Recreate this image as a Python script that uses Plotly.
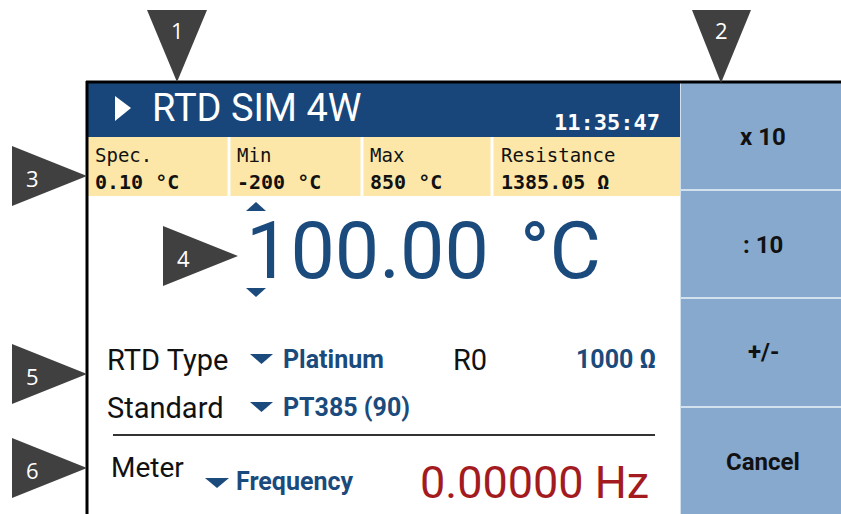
import plotly.graph_objects as go

# ---------------- data (texts shown on the screen) ----------------
title_text = "RTD SIM 4W"
clock_text = "11:35:47"
info_labels = ["Spec.", "Min", "Max", "Resistance"]
info_values = ["0.10 °C", "-200 °C", "850 °C", "1385.05 Ω"]
main_value = "100.00"
main_unit = "°C"
setting_labels = ["RTD Type", "Standard"]
setting_values = ["Platinum", "PT385 (90)"]
r0_label = "R0"
r0_value = "1000 Ω"
meter_label = "Meter"
meter_mode = "Frequency"
meter_reading = "0.00000 Hz"
button_labels = ["x 10", ": 10", "+/-", "Cancel"]
callout_numbers = ["1", "2", "3", "4", "5", "6"]

# ---------------- layout constants ----------------
W, H = 841, 514
NARROW = "Roboto, 'Liberation Sans', sans-serif"
MONO = "'DejaVu Sans Mono', 'Liberation Mono', monospace"
CALL = "'Open Sans', 'Noto Sans', sans-serif"

DARK_BLUE = "#18467a"
TEXT_BLUE = "#1b4a7c"
YELLOW = "#fce7a8"
BTN_BLUE = "#86a9cd"
BTN_LINE = "#d3e0ee"
RED = "#a31b1f"
GRAY = "#404040"

fig = go.Figure()
shapes = []
ann = []


def rect(x0, y0, x1, y1, color):
    shapes.append(dict(type="rect", xref="x", yref="y", x0=x0, y0=y0, x1=x1, y1=y1,
                       fillcolor=color, line=dict(width=0), layer="below"))


def seg(x0, y0, x1, y1, color, width):
    shapes.append(dict(type="line", xref="x", yref="y", x0=x0, y0=y0, x1=x1, y1=y1,
                       line=dict(color=color, width=width)))


def tri(pts, color):
    p = "M " + " L ".join(f"{x},{y}" for x, y in pts) + " Z"
    shapes.append(dict(type="path", xref="x", yref="y", path=p, fillcolor=color,
                       line=dict(width=0)))


def text(x, y, s, size, color, family=NARROW, bold=False, xanchor="left"):
    ann.append(dict(x=x, y=y, xref="x", yref="y", text=s, showarrow=False,
                    xanchor=xanchor, yanchor="middle",
                    font=dict(family=family, size=size, color=color,
                              weight="bold" if bold else "normal")))


# backgrounds
rect(88, 83, 680, 137, DARK_BLUE)
rect(88, 137, 680, 196, YELLOW)
rect(680, 83, W, H, BTN_BLUE)

# yellow-bar separators
for xs in [229, 362, 492]:
    seg(xs, 137, xs, 196, "white", 3)
# button separators
for ys in [190, 298, 407]:
    seg(681, ys, W, ys, BTN_LINE, 2)
seg(680.5, 83, 680.5, H, BTN_LINE, 1)

# frame
seg(86, 82, W, 82, "black", 3)
seg(87, 81, 87, H, "black", 3)

# title bar
tri([(115, 96), (131, 108), (115, 121)], "white")
text(150, 108, title_text, 38, "white")
text(662, 122, clock_text, 22, "white", family=MONO, bold=True, xanchor="right")

# info bar
info_x = [93, 235, 368, 499]
for i in range(4):
    text(info_x[i], 155, info_labels[i], 19, "#111111", family=MONO)
    text(info_x[i], 182, info_values[i], 20, "#111111", family=MONO, bold=True)

# main value
tri([(246, 211), (256, 202), (266, 211)], TEXT_BLUE)
tri([(246, 288), (256, 297), (266, 288)], TEXT_BLUE)
text(244, 251, main_value, 79, TEXT_BLUE)
text(603, 251, main_unit, 79, TEXT_BLUE, xanchor="right")

# settings
row_y = [360, 408]
for i in range(2):
    text(105, row_y[i], setting_labels[i], 29, "#111111")
    tri([(250, row_y[i] - 6), (273, row_y[i] - 6), (261.5, row_y[i] + 4)], TEXT_BLUE)
    text(281, row_y[i] - 1, setting_values[i], 25, TEXT_BLUE, bold=True)
text(470, row_y[0], r0_label, 29, "#111111", xanchor="center")
text(658, row_y[0] - 1, r0_value, 25, TEXT_BLUE, bold=True, xanchor="right")

seg(113, 435, 655, 435, "#333333", 2)

# meter
text(109, 467, meter_label, 28, "#111111")
tri([(205, 478), (229, 478), (217, 488)], TEXT_BLUE)
text(234, 481, meter_mode, 25, TEXT_BLUE, bold=True)
text(651, 482, meter_reading, 45, RED, xanchor="right")

# buttons
btn_y = [137, 245, 352, 462]
for i in range(4):
    text(763, btn_y[i], button_labels[i], 24, "#111111", bold=True, xanchor="center")

# callouts
down_calls = [(147, 207, 177, 82), (692, 751, 721, 83)]
for k, (xl, xr, xa, ya) in enumerate(down_calls):
    tri([(xl, 10), (xr, 10), (xa, ya)], GRAY)
    text(xa, 30, callout_numbers[k], 22, "white", family=CALL, xanchor="center")

right_calls = [(12, 146, 206, 87), (163, 226, 286, 238), (12, 344, 404, 87), (12, 438, 498, 87)]
for k, (xl, yt, yb, xa) in enumerate(right_calls):
    ym = (yt + yb) / 2
    tri([(xl, yt), (xl, yb), (xa, ym)], GRAY)
    text(xl + 20, ym + 2, callout_numbers[k + 2], 22, "white", family=CALL, xanchor="center")

fig.update_layout(
    width=W, height=H,
    margin=dict(l=0, r=0, t=0, b=0),
    paper_bgcolor="white", plot_bgcolor="white",
    xaxis=dict(range=[0, W], visible=False, fixedrange=True),
    yaxis=dict(range=[H, 0], visible=False, fixedrange=True),
    shapes=shapes, annotations=ann, showlegend=False,
)
fig.write_html("out.html", config={"displayModeBar": False},
               post_script="document.body.style.margin='0';document.body.style.overflow='hidden';")
